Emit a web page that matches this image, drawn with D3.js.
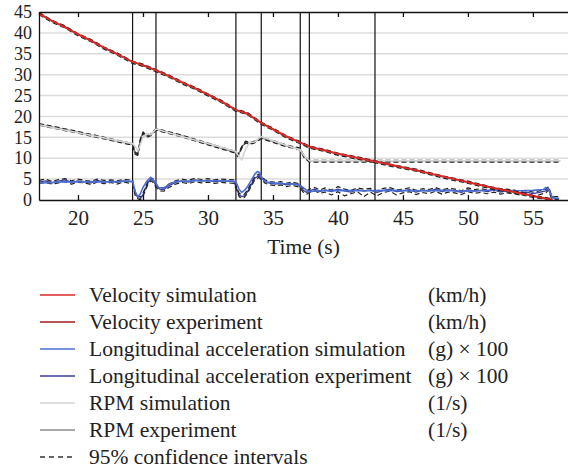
<!DOCTYPE html>
<html>
<head>
<meta charset="utf-8">
<script src="https://cdn.jsdelivr.net/npm/d3@7"></script>
<style>
  body { margin: 0; background: #fff; }
  text { font-family: "Liberation Serif", "Times New Roman", serif; fill: #222; }
</style>
</head>
<body>
<svg id="chart" width="568" height="468"></svg>
<script>
// axes
var xTicks = [20, 25, 30, 35, 40, 45, 50, 55];
var yTicks = [0, 5, 10, 15, 20, 25, 30, 35, 40, 45];
var eventTimes = [24.2, 26.0, 32.15, 34.1, 37.1, 37.8, 42.85];

// velocity (km/h)
var velT   = [17, 18, 19, 20, 21, 22, 23, 24.2, 25, 26, 27, 28, 29, 30, 31, 32.15, 33, 34.1, 35, 36, 37.1, 37.8, 39, 40, 42, 44, 46, 48, 50, 52, 54, 55, 56.5];
var velSim = [44.5, 42.9, 41.3, 39.7, 38.1, 36.5, 34.9, 33.1, 32.2, 31.1, 29.6, 28.2, 26.7, 25.3, 23.6, 21.6, 20.6, 18.5, 16.9, 15.3, 13.7, 12.8, 11.8, 11.1, 9.7, 8.5, 7.1, 5.7, 4.2, 2.9, 1.6, 1.0, 0];
var velExp = [44.7, 42.8, 41.5, 39.6, 38.2, 36.4, 35.0, 33.0, 32.3, 31.0, 29.7, 28.1, 26.8, 25.2, 23.7, 21.5, 20.8, 18.4, 17.0, 15.2, 13.8, 12.7, 11.9, 11.0, 9.8, 8.4, 7.2, 5.6, 4.3, 2.8, 1.7, 0.9, 0.1];
var velHi  = [44.9, 43.0, 41.7, 39.8, 38.4, 36.6, 35.2, 33.2, 32.5, 31.2, 29.9, 28.3, 27.0, 25.4, 23.9, 21.7, 21.0, 18.6, 17.2, 15.4, 14.0, 12.9, 12.1, 11.2, 10.0, 8.6, 7.4, 5.8, 4.5, 3.0, 1.9, 1.1, 0.3];
var velLo  = [44.4, 42.5, 41.2, 39.3, 37.9, 36.1, 34.7, 32.7, 32.0, 30.7, 29.4, 27.8, 26.5, 24.9, 23.4, 21.2, 20.5, 18.1, 16.7, 14.9, 13.5, 12.4, 11.6, 10.7, 9.5, 8.1, 6.9, 5.3, 4.0, 2.5, 1.4, 0.6, 0];

// engine speed (1/s)
var rpmT   = [17, 20, 24.2, 24.4, 24.6, 24.8, 25, 25.3, 25.6, 26, 28, 30, 32.15, 32.3, 32.6, 32.9, 33.2, 33.6, 34.1, 35, 36, 37.1, 37.4, 37.8, 40, 45, 50, 55, 57.1];
var rpmSim = [18.0, 16.1, 13.5, 12.8, 11.8, 13.2, 15.0, 16.0, 15.6, 17.0, 15.2, 13.5, 11.6, 10.8, 9.6, 12.2, 13.8, 13.9, 15.2, 14.2, 13.1, 12.0, 10.6, 9.4, 9.4, 9.4, 9.4, 9.4, 9.4];
var rpmExp = [18.1, 16.2, 13.3, 11.2, 10.9, 14.4, 16.1, 15.2, 15.6, 16.9, 15.3, 13.4, 11.4, 10.6, 12.6, 13.9, 13.5, 13.9, 14.9, 14.0, 13.0, 12.2, 10.3, 9.4, 9.4, 9.4, 9.4, 9.4, 9.4];
var rpmHi  = [18.3, 16.4, 13.5, 11.4, 11.1, 14.6, 16.3, 15.4, 15.8, 17.1, 15.5, 13.6, 11.6, 10.8, 12.8, 14.1, 13.7, 14.1, 15.1, 14.2, 13.2, 12.4, 10.5, 9.5, 9.5, 9.5, 9.5, 9.5, 9.5];
var rpmLo  = [17.9, 16.0, 13.1, 11.0, 10.7, 14.2, 15.9, 15.0, 15.4, 16.7, 15.1, 13.2, 11.2, 10.4, 12.4, 13.7, 13.3, 13.7, 14.7, 13.8, 12.8, 12.0, 10.1, 9.1, 9.1, 9.1, 9.1, 9.1, 9.1];

// longitudinal acceleration (g x 100), simulation
var accSimT = [17, 18, 19, 20, 21, 22, 23, 24, 24.2, 24.4, 24.6, 24.8, 25, 25.3, 25.6, 25.9, 26.2, 26.6, 27, 27.5, 28, 29, 30, 31, 32, 32.2, 32.4, 32.6, 32.8, 33, 33.3, 33.6, 33.8, 34, 34.2, 34.5, 35, 36, 37, 37.3, 37.6, 37.8, 38.5, 40, 42, 44, 46, 48, 50, 52, 54, 55, 55.8, 56, 56.2, 56.5, 57];
var accSim  = [4.0, 4.2, 4.4, 4.3, 4.4, 4.3, 4.4, 4.5, 4.5, 2.0, 0.8, 1.5, 3.0, 4.5, 5.4, 4.4, 3.0, 2.8, 3.8, 4.4, 4.5, 4.6, 4.6, 4.6, 4.5, 4.0, 2.5, 1.8, 2.3, 3.0, 4.5, 6.2, 6.8, 6.5, 5.0, 4.3, 4.1, 3.9, 3.7, 3.0, 2.3, 2.0, 2.2, 2.3, 2.2, 2.3, 2.2, 2.3, 2.1, 2.4, 2.2, 2.3, 2.5, 3.0, 2.6, 0.5, 0.3];

// longitudinal acceleration, experiment and 95% interval
var accT = [17, 17.5, 18, 18.5, 19, 19.5, 20, 20.5, 21, 21.5, 22, 22.5, 23, 23.5, 24,
            24.2, 24.4, 24.6, 24.8, 25, 25.2, 25.4, 25.6, 25.8, 26,
            26.3, 26.6, 27,
            27.5, 28, 28.5, 29, 29.5, 30, 30.5, 31, 31.5, 32,
            32.2, 32.4, 32.6, 32.8, 33,
            33.3, 33.6, 33.9, 34.1,
            34.4, 34.8, 35.2, 35.6, 36, 36.5, 37,
            37.3, 37.6, 37.8, 38.2, 38.6,
            39, 39.5, 40, 40.5, 41, 41.5, 42, 42.5, 43, 43.5, 44, 44.5, 45, 45.5, 46, 46.5, 47, 47.5, 48, 48.5, 49, 49.5, 50, 50.5, 51, 51.5, 52, 52.5, 53, 53.5, 54, 54.5, 55, 55.5, 56,
            56.2, 56.4, 56.6, 57];
var accExp = [4.3, 4.6, 4.1, 4.5, 4.8, 4.2, 4.6, 4.4, 4.1, 4.7, 4.3, 4.5, 4.2, 4.6, 4.4,
              4.3, 1.5, 0.6, 0.3, 1.2, 2.8, 4.2, 5.0, 4.6, 3.4,
              2.6, 2.5, 3.4,
              4.2, 4.6, 4.3, 4.8, 4.5, 4.7, 4.4, 4.6, 4.5, 4.4,
              2.8, 1.2, 0.8, 1.0, 1.8,
              3.5, 5.2, 5.8, 5.3,
              4.4, 4.0, 3.8, 4.0, 3.6, 3.9, 3.5,
              2.4, 1.8, 2.2, 2.6, 2.0,
              2.4, 2.0, 2.6, 2.2, 1.9, 2.5, 2.1, 2.4, 1.8, 2.3, 2.6, 2.0, 2.2, 2.5, 1.9, 2.3, 2.1, 2.6, 2.0, 2.4, 2.2, 1.8, 2.5, 2.1, 2.3, 2.0, 2.4, 1.9, 2.2, 2.0, 1.7, 1.9, 1.5, 1.8, 2.2,
              2.8, 1.0, 0.5, 0.4];
var accHi = [4.7, 5.0, 4.4, 4.9, 5.1, 4.6, 5.0, 4.7, 4.5, 5.0, 4.7, 4.8, 4.6, 4.9, 4.8,
             4.7, 1.9, 1.0, 0.7, 1.6, 3.2, 4.6, 5.4, 5.0, 3.8,
             3.0, 2.9, 3.8,
             4.6, 5.0, 4.7, 5.2, 4.9, 5.1, 4.8, 5.0, 4.9, 4.8,
             3.2, 1.6, 1.2, 1.4, 2.2,
             3.9, 5.6, 6.2, 5.7,
             4.8, 4.4, 4.2, 4.4, 4.0, 4.3, 3.9,
             2.8, 2.2, 2.6, 3.0, 2.4,
             2.9, 2.4, 3.2, 2.6, 2.3, 2.9, 2.6, 2.8, 2.2, 2.8, 3.0, 2.4, 2.6, 2.9, 2.3, 2.7, 2.5, 3.0, 2.4, 2.8, 2.6, 2.2, 2.9, 2.5, 2.7, 2.4, 2.8, 2.3, 2.6, 2.4, 2.1, 2.3, 1.9, 2.2, 2.6,
             3.2, 1.4, 0.9, 0.8];
var accLo = [3.9, 4.2, 3.8, 4.1, 4.4, 3.8, 4.2, 4.1, 3.7, 4.3, 3.9, 4.2, 3.8, 4.3, 4.0,
             3.9, 1.1, 0.3, 0.0, 0.8, 2.4, 3.8, 4.6, 4.2, 3.0,
             2.2, 2.1, 3.0,
             3.8, 4.2, 3.9, 4.4, 4.1, 4.3, 4.0, 4.2, 4.1, 4.0,
             2.4, 0.8, 0.4, 0.6, 1.4,
             3.1, 4.8, 5.4, 4.9,
             4.0, 3.6, 3.4, 3.6, 3.2, 3.5, 3.1,
             2.0, 1.4, 1.8, 2.2, 1.6,
             1.9, 1.2, 2.0, 1.0, 1.5, 2.0, 0.8, 1.9, 1.0, 1.8, 2.1, 1.2, 1.7, 2.0, 1.3, 1.8, 1.5, 2.1, 1.4, 1.9, 1.7, 1.3, 2.0, 1.6, 1.8, 1.5, 1.9, 1.4, 1.7, 1.5, 1.2, 1.4, 1.0, 1.3, 1.7,
             2.4, 0.6, 0.1, 0.1];

// legend
var legendNames = ["Velocity simulation", "Velocity experiment", "Longitudinal acceleration simulation",
                   "Longitudinal acceleration experiment", "RPM simulation", "RPM experiment", "95% confidence intervals"];
var legendUnits = ["(km/h)", "(km/h)", "(g) \u00d7 100", "(g) \u00d7 100", "(1/s)", "(1/s)", ""];

var colVelSim = "#d92a28", colVelExp = "#a01c1c", colAccSim = "#4a6fd2", colAccExp = "#3d3d99";
var colRpmSim = "#d4d4d4", colRpmExp = "#8c8c8c", colCi = "#222";
var serif = '"Liberation Serif", "Times New Roman", serif';

var svg = d3.select("#chart");
var x = d3.scaleLinear().domain([17, 57.7]).range([39, 568]);
var y = d3.scaleLinear().domain([0, 45]).range([200, 12]);

// grid
svg.append("g").selectAll("line")
  .data(yTicks.filter(d => d > 0 && d < 45)).enter().append("line")
  .attr("x1", x(17)).attr("x2", x(57.7))
  .attr("y1", d => y(d)).attr("y2", d => y(d))
  .attr("stroke", "#dcdcdc").attr("stroke-width", 1.5);

// event markers
svg.append("g").selectAll("line")
  .data(eventTimes).enter().append("line")
  .attr("x1", d => x(d)).attr("x2", d => x(d))
  .attr("y1", y(45)).attr("y2", y(0))
  .attr("stroke", "#111").attr("stroke-width", 1.2);

function series(ts, vs) { return ts.map((t, i) => [t, vs[i]]); }
var line = d3.line().x(d => x(d[0])).y(d => y(d[1]));

function draw(ts, vs, color, width, dash) {
  svg.append("path").datum(series(ts, vs))
    .attr("d", line).attr("fill", "none")
    .attr("stroke", color).attr("stroke-width", width)
    .attr("stroke-linejoin", "round")
    .attr("stroke-dasharray", dash || null);
}

draw(rpmT, rpmExp, colRpmExp, 1.6);
draw(rpmT, rpmHi, colCi, 1.3, "5,3");
draw(rpmT, rpmLo, colCi, 1.3, "5,3");
draw(rpmT, rpmSim, colRpmSim, 1.6);
draw(accT, accExp, colAccExp, 1.3);
draw(accT, accHi, colCi, 1.2, "5,3");
draw(accT, accLo, colCi, 1.2, "5,3");
draw(accSimT, accSim, colAccSim, 1.6);
draw(velT, velHi, colCi, 1.3, "5,3");
draw(velT, velLo, colCi, 1.3, "5,3");
draw(velT, velExp, colVelExp, 1.5);
draw(velT, velSim, colVelSim, 1.8);

// axes
svg.append("g").attr("transform", "translate(0," + y(0) + ")")
  .call(d3.axisBottom(x).tickValues(xTicks).tickSizeInner(-5).tickSizeOuter(0).tickPadding(10))
  .attr("font-family", serif).attr("font-size", 21)
  .call(g => g.selectAll("line, path").attr("stroke", "#111").attr("stroke-width", 1.3));

svg.append("g").attr("transform", "translate(0," + y(45) + ")")
  .call(d3.axisTop(x).tickValues(xTicks).tickSizeInner(-5).tickSizeOuter(0).tickFormat(""))
  .call(g => g.selectAll("line, path").attr("stroke", "#111").attr("stroke-width", 1.3));

svg.append("g").attr("transform", "translate(" + x(17) + ",0)")
  .call(d3.axisLeft(y).tickValues(yTicks).tickSize(0).tickPadding(7))
  .attr("font-family", serif).attr("font-size", 18)
  .call(g => g.selectAll("path").attr("stroke", "#111").attr("stroke-width", 1.3));

svg.append("text")
  .attr("x", (x(17) + x(57.7)) / 2).attr("y", 254)
  .attr("text-anchor", "middle").attr("font-size", 21.5)
  .text("Time (s)");

// legend
var legendStyles = [[colVelSim, null], [colVelExp, null], [colAccSim, null], [colAccExp, null],
                    [colRpmSim, null], [colRpmExp, null], ["#333", "5,4"]];
var rowY = d3.scaleLinear().domain([0, 6]).range([295, 457]);
var leg = svg.append("g").selectAll("g").data(legendNames).enter().append("g")
  .attr("transform", (d, i) => "translate(0," + rowY(i) + ")");
leg.append("line").attr("x1", 40).attr("x2", 75)
  .attr("stroke", (d, i) => legendStyles[i][0])
  .attr("stroke-dasharray", (d, i) => legendStyles[i][1])
  .attr("stroke-width", 1.5);
leg.append("text").attr("x", 89).attr("y", 7).attr("font-size", 21.5).text(d => d);
leg.append("text").attr("x", 428).attr("y", 7).attr("font-size", 21.5).text((d, i) => legendUnits[i]);
</script>
</body>
</html>
